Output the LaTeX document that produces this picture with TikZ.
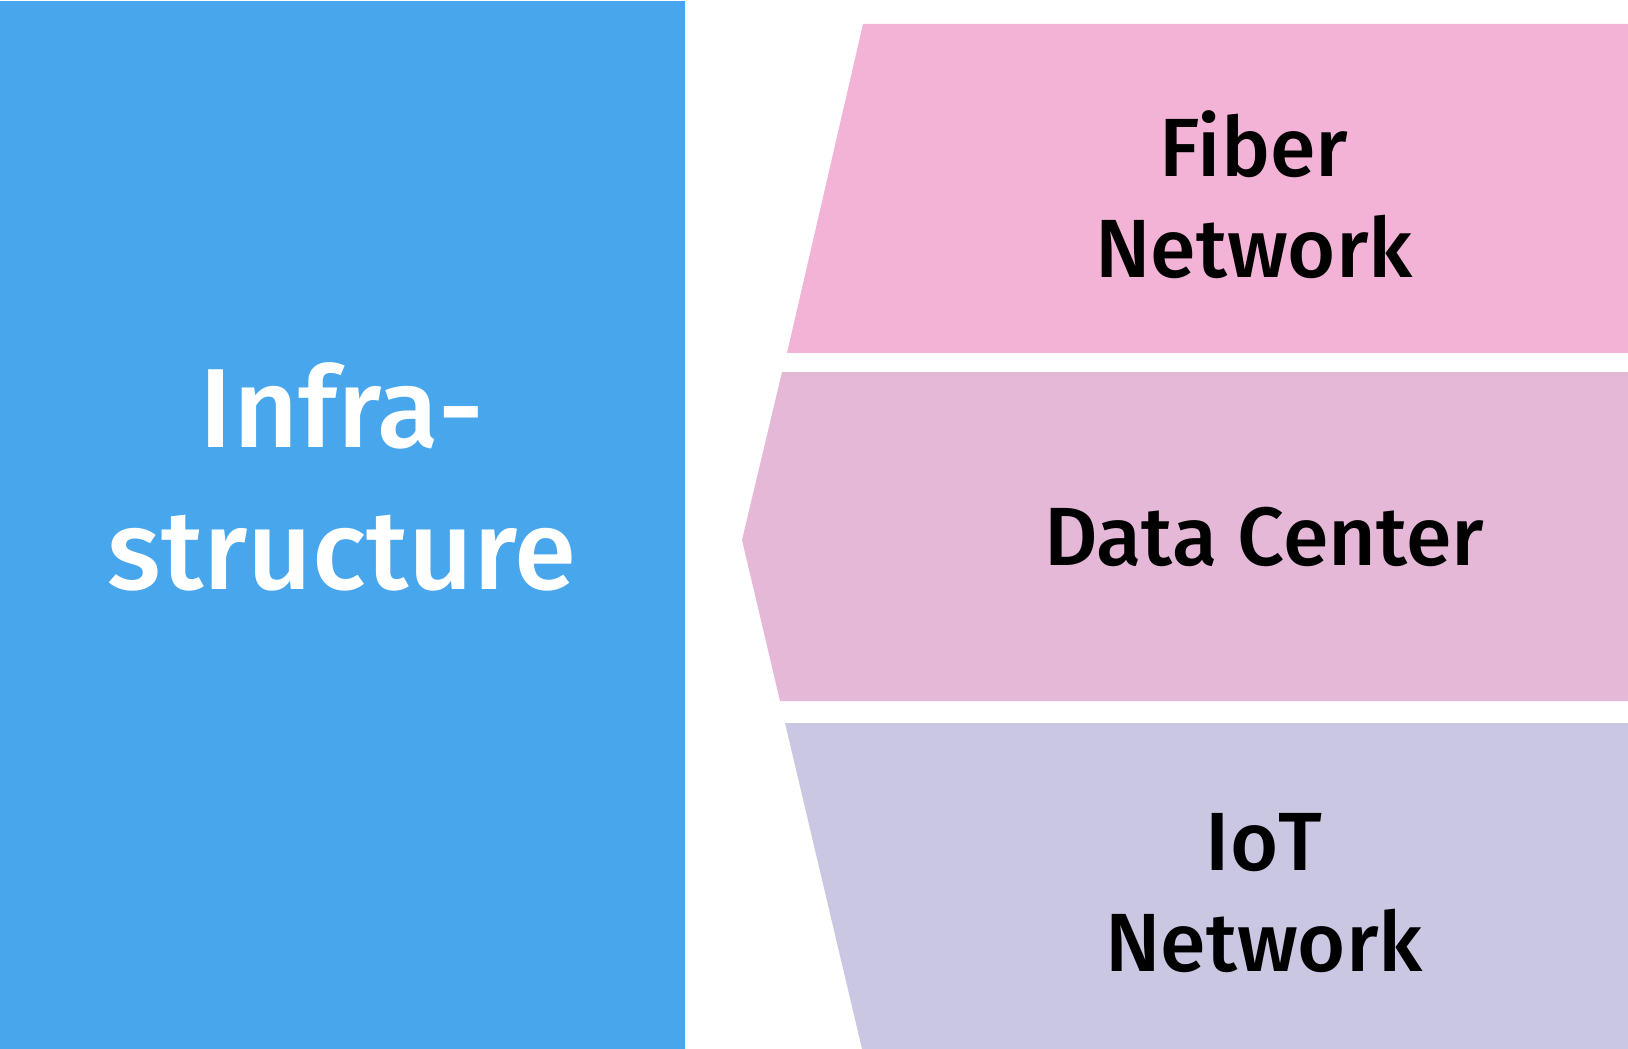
\documentclass[tikz,border=0pt]{standalone}
\usepackage{fontspec}
\setmainfont{Fira Sans}[UprightFont={* Medium}]
\usetikzlibrary{positioning}
\definecolor{InfraBlue}{RGB}{71,166,236}
\definecolor{FiberPink}{RGB}{242,179,214}
\definecolor{DataPink}{RGB}{229,184,216}
\definecolor{IotLilac}{RGB}{202,199,227}

\begin{document}
\begin{tikzpicture}[x=0.01cm, y=-0.01cm,
    layer/.style={align=center, font=\fontsize{23.5}{28.7}\selectfont},
    title/.style={align=center, text=white, font=\fontsize{32}{40.4}\selectfont}]
    \useasboundingbox (0,0) rectangle (1628,1049);

    % Left block
    \fill[InfraBlue] (0,1) rectangle (685,1049);
    \node[title] (infra) at (342,477) {Infra-\\structure};

    % Fiber layer
    \fill[FiberPink] (863,24) -- (1628,24) -- (1628,353) -- (787,353) -- cycle;
    \node[layer] (fiber) at (1254,195) {Fiber\\Network};

    % Data center layer
    \fill[DataPink] (782,372) -- (1628,372) -- (1628,701) -- (780,701) -- (742,540) -- cycle;
    \node[layer] (data) at (1264,537) {Data Center};

    % IoT layer
    \fill[IotLilac] (785,723) -- (1628,723) -- (1628,1049) -- (862,1049) -- cycle;
    \node[layer] (iot) at (1264,893) {IoT\\Network};
\end{tikzpicture}
\end{document}
